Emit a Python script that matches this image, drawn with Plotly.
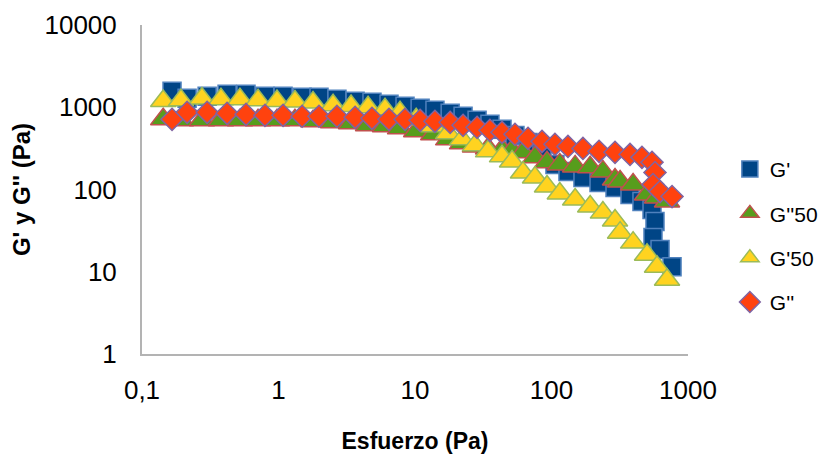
import plotly.graph_objects as go

# Stress (Pa) for G' and G'' (sample 1)
stress = [0.166, 0.214, 0.300, 0.420, 0.578, 0.796, 1.08, 1.49, 1.98, 2.68, 3.64, 4.84,
          6.45, 8.45, 10.9, 14.0, 18.1, 22.5, 28.5, 35.4, 43.4, 54.0, 67.3, 85.2, 106,
          132, 170, 223, 292, 376, 460, 545, 573, 554, 624, 764]
g_prime = [1567, 1288, 1362, 1440, 1440, 1362, 1362, 1324, 1324, 1252, 1184, 1151,
           1088, 1028, 972, 919, 845, 777, 694, 620, 539, 455, 374, 291, 202,
           166, 140, 122, 106, 86.9, 71.4, 57.0, 40.7, 26.0, 18.6, 11.5]
g_double = [714, 869, 869, 845, 821, 799, 799, 777, 777, 777, 755, 734,
            714, 714, 694, 675, 656, 603, 570, 524, 496, 469, 419, 385, 354,
            334, 316, 291, 283, 267, 246, 214, 161, 115, 94.5, 82.1]

# Stress (Pa) for sample 50
stress50 = [0.143, 0.193, 0.275, 0.379, 0.522, 0.708, 0.975, 1.32, 1.79, 2.51, 3.40, 4.53,
            6.03, 7.77, 10.2, 13.6, 17.5, 22.1, 27.5, 34.3, 43.4, 51.4, 61.8, 75.7, 92.7,
            115, 149, 192, 238, 292, 318, 396, 501, 593, 702]
g_prime50 = [1193, 1217, 1277, 1252, 1252, 1217, 1193, 1173, 1141, 1058, 1037, 1000,
             945, 869, 714, 587, 482, 407, 344, 291, 253, 219, 161, 140, 109,
             89.4, 75.5, 62.0, 52.4, 41.9, 29.9, 22.6, 16.1, 11.5, 8.0]
g_double50 = [714, 694, 694, 694, 694, 694, 694, 694, 675, 656, 638, 603,
              587, 554, 510, 469, 407, 364, 334, 316, 307, 299, 283, 246, 214,
              202, 191, 186, 166, 132, 125, 115, 86.9, 79.9, 71.4]

x_tickvals = [0.1, 1, 10, 100, 1000]
x_ticktext = ["0,1", "1", "10", "100", "1000"]
y_tickvals = [1, 10, 100, 1000, 10000]
y_ticktext = ["1", "10", "100", "1000", "10000"]

series = [
    ("G'", stress, g_prime, "square", 18, "#004586", "#4F81BD"),
    ("G''50", stress50, g_double50, "triangle-up", 22, "#579D1C", "#C0504D"),
    ("G'50", stress50, g_prime50, "triangle-up", 22, "#FFD320", "#9BBB59"),
    ("G''", stress, g_double, "diamond", 17, "#FF420E", "#8064A2"),
]

fig = go.Figure()
for name, xs, ys, sym, size, fill, edge in series:
    fig.add_trace(go.Scatter(
        x=xs, y=ys, mode="markers", name=name, legendgroup=name,
        marker=dict(symbol=sym, size=size, color=fill,
                    line=dict(color=edge, width=1.5)),
    ))

fig.update_layout(
    width=821, height=454,
    margin=dict(l=142, r=133, t=25, b=100, autoexpand=False),
    paper_bgcolor="white", plot_bgcolor="white",
    font=dict(family="Liberation Sans, Arial, sans-serif", color="#000000"),
    showlegend=True,
    legend=dict(xref="container", yref="container", x=0.889, xanchor="left",
                y=0.672, yanchor="top",
                font=dict(size=21), tracegroupgap=14,
                traceorder="grouped", bgcolor="rgba(0,0,0,0)"),
    xaxis=dict(type="log", range=[-1, 3], tickvals=x_tickvals, ticktext=x_ticktext,
               showgrid=False, zeroline=False, showline=True, linecolor="#B3B3B3",
               linewidth=2, ticks="", tickfont=dict(size=26), ticklabelstandoff=12,
               title=dict(text="<b>Esfuerzo (Pa)</b>", font=dict(size=23), standoff=30)),
    yaxis=dict(type="log", range=[0, 4], tickvals=y_tickvals, ticktext=y_ticktext,
               showgrid=False, zeroline=False, showline=True, linecolor="#B3B3B3",
               linewidth=2, ticks="", tickfont=dict(size=26), ticklabelstandoff=18,
               title=dict(text="<b>G' y G'' (Pa)</b>", font=dict(size=24), standoff=7)),
)

fig.write_html("out.html", config={"displayModeBar": False},
               post_script="document.body.style.margin='0';document.body.style.overflow='hidden';")
